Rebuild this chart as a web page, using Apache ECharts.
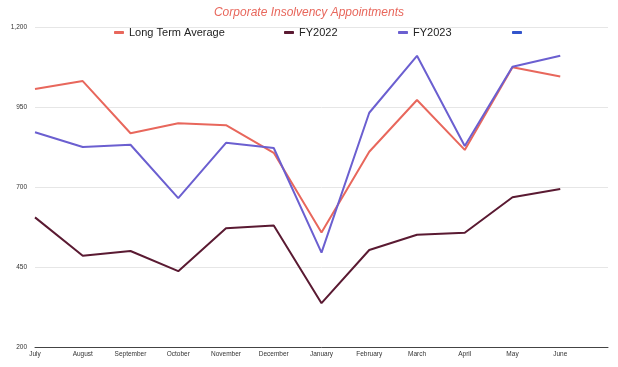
<!DOCTYPE html>
<html>
<head>
<meta charset="utf-8">
<script src="https://cdn.jsdelivr.net/npm/echarts@6/dist/echarts.min.js"></script>
<style>html,body{margin:0;padding:0;background:#fff}#c{width:618px;height:367px}</style>
</head>
<body>
<div id="c"></div>
<script>
var months = ["July","August","September","October","November","December","January","February","March","April","May","June",""];
var longTermAverage = [1006,1031,868,899,893,807,558,810,972,816,1074,1045];
var fy2022 = [605,485,500,437,571,580,337,503,551,557,668,694];
var fy2023 = [871,825,832,665,838,822,495,932,1110,828,1076,1110];
var extraSeries = [];
var yTicks = [200,450,700,950,1200];

var chart = echarts.init(document.getElementById('c'), null, {renderer:'canvas'});
var font = 'Liberation Sans, Arial, Helvetica, sans-serif';
function leg(name, left){
  return {data:[name], left:left, top:27, itemWidth:10, itemHeight:3, icon:'roundRect',
    itemGap:0, padding:0, textStyle:{fontSize:11, color:'#222', fontFamily:font}};
}
chart.setOption({
  animation:false,
  title:{text:'Corporate Insolvency Appointments', left:'center', top:7, padding:0,
    textStyle:{fontSize:12, fontStyle:'italic', fontWeight:'normal', color:'#e8675c', fontFamily:font}},
  legend:[leg('Long Term Average',114), leg('FY2022',284), leg('FY2023',398), leg(' ',512)],
  grid:{left:35, right:10, top:27, bottom:20},
  xAxis:{type:'category', data:months, boundaryGap:false,
    axisLine:{lineStyle:{color:'#444', width:1}}, axisTick:{show:false},
    axisLabel:{fontSize:6.5, color:'#333', margin:4, fontFamily:font, interval:0}},
  yAxis:{type:'value', min:yTicks[0], max:yTicks[yTicks.length-1], interval:250,
    axisLine:{show:false}, axisTick:{show:false},
    splitLine:{lineStyle:{color:'#e6e6e6', width:1}},
    axisLabel:{fontSize:6.5, color:'#333', margin:8, fontFamily:font,
      formatter:function(v){return v.toLocaleString('en-US');}}},
  series:[
    {name:'Long Term Average', type:'line', data:longTermAverage, symbol:'none', color:'#e8675c', lineStyle:{width:2}},
    {name:'FY2022', type:'line', data:fy2022, symbol:'none', color:'#5a1a32', lineStyle:{width:2}},
    {name:'FY2023', type:'line', data:fy2023, symbol:'none', color:'#6b5fd0', lineStyle:{width:2}},
    {name:' ', type:'line', data:extraSeries, symbol:'none', color:'#3355cc', lineStyle:{width:2}}
  ]
});
</script>
</body>
</html>
